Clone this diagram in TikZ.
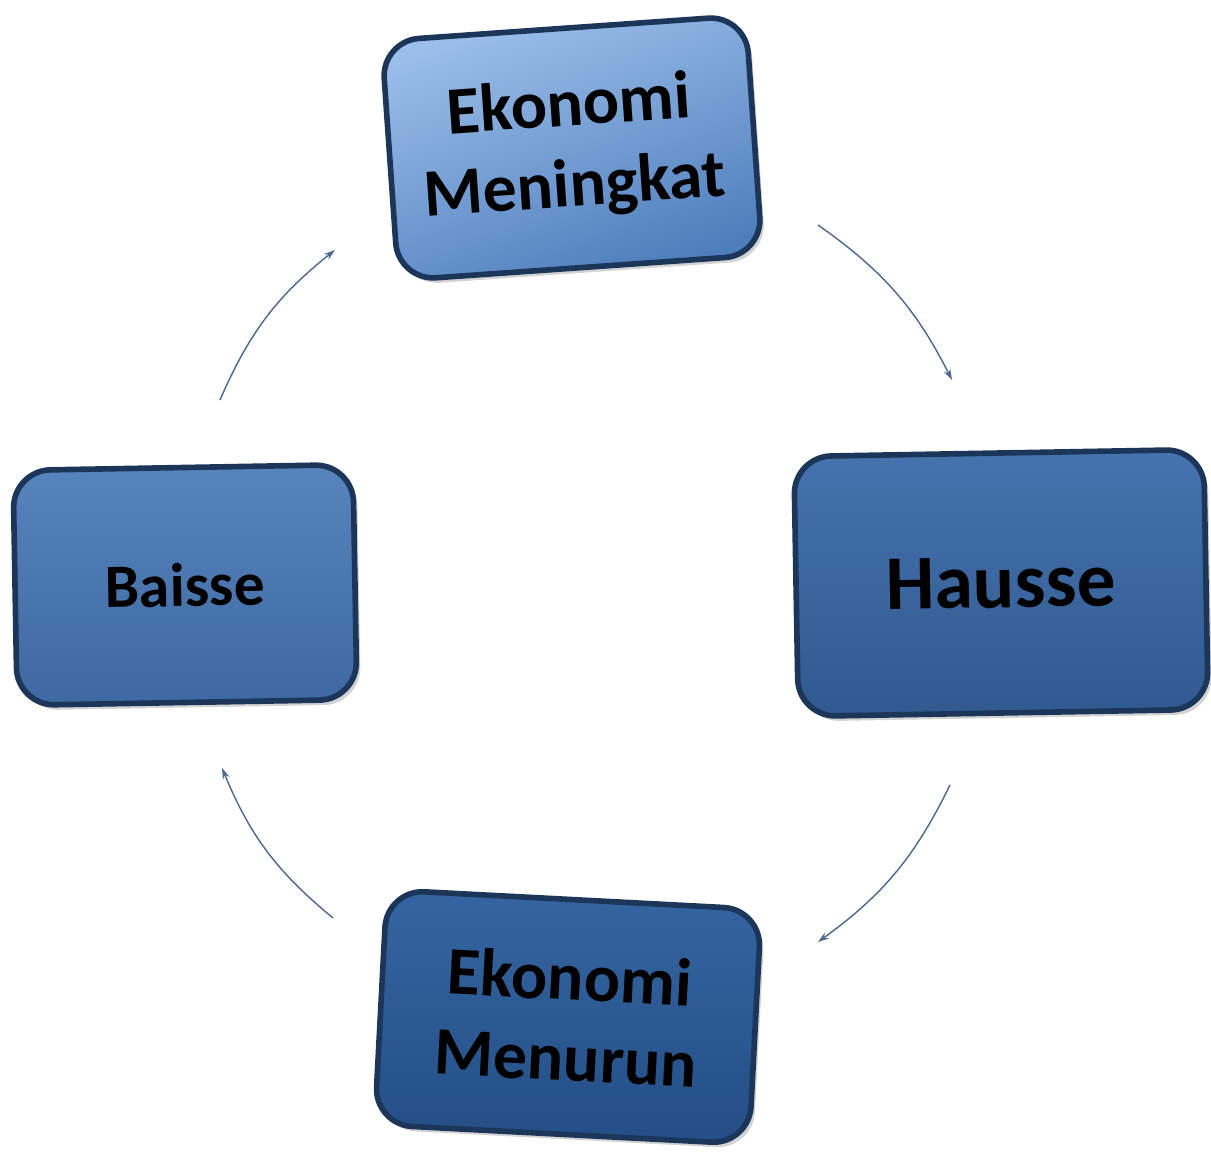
\documentclass[tikz,border=0pt]{standalone}
\usepackage{fontspec}
\setmainfont{Carlito}
\usetikzlibrary{arrows.meta,shadows}
\definecolor{boxline}{HTML}{1C365A}
\definecolor{flowline}{HTML}{4A6890}
\definecolor{naiktop}{HTML}{9CBFEA}
\definecolor{naikbot}{HTML}{4E7DBC}
\definecolor{haussetop}{HTML}{4673AE}
\definecolor{haussebot}{HTML}{30598F}
\definecolor{baissetop}{HTML}{5884BC}
\definecolor{baissebot}{HTML}{3D68A1}
\definecolor{turuntop}{HTML}{3465A0}
\definecolor{turunbot}{HTML}{244E86}
\tikzset{
  phase/.style={draw=boxline, line width=3.2pt, rounded corners=0.75cm, align=center,
    text=black, drop shadow={shadow xshift=0.08cm, shadow yshift=-0.1cm, opacity=0.35}},
  flow/.style={draw=flowline, line width=0.8pt, -{Stealth[length=0.22cm,width=0.14cm]}}
}
\begin{document}
\begin{tikzpicture}[x=0.02cm,y=0.02cm]
  \useasboundingbox (0,0) rectangle (1211,1156);
  % the four phases
  \node (naik) [phase, rotate=4, minimum width=7.3cm, minimum height=4.8cm,
    top color=naiktop, bottom color=naikbot, shading angle=20,
    font=\bfseries\fontsize{38.5}{46}\selectfont] at (572,1008) {Ekonomi\\Meningkat};
  \node (hausse) [phase, rotate=1, minimum width=8.2cm, minimum height=5.2cm,
    top color=haussetop, bottom color=haussebot,
    font=\bfseries\fontsize{44}{50}\selectfont] at (1001,573) {Hausse};
  \node (baisse) [phase, rotate=1, minimum width=6.8cm, minimum height=4.7cm,
    top color=baissetop, bottom color=baissebot,
    font=\bfseries\fontsize{35}{42}\selectfont] at (185,571) {Baisse};
  \node (turun) [phase, rotate=-3, minimum width=7.5cm, minimum height=4.7cm,
    top color=turuntop, bottom color=turunbot,
    font=\bfseries\fontsize{38.5}{46}\selectfont] at (568,139) {Ekonomi\\Menurun};
  % ends of the arrows
  \coordinate (naik-out) at (818,931);
  \coordinate (hausse-in) at (952,776);
  \coordinate (hausse-out) at (950,371);
  \coordinate (turun-in) at (818,214);
  \coordinate (turun-out) at (333,238);
  \coordinate (baisse-in) at (222,388);
  \coordinate (baisse-out) at (220,756);
  \coordinate (naik-in) at (335,906);
  \draw [flow] (naik-out) to[bend left=14] (hausse-in);
  \draw [flow] (hausse-out) to[bend left=14] (turun-in);
  \draw [flow] (turun-out) to[bend left=14] (baisse-in);
  \draw [flow] (baisse-out) to[bend left=14] (naik-in);
\end{tikzpicture}
\end{document}
